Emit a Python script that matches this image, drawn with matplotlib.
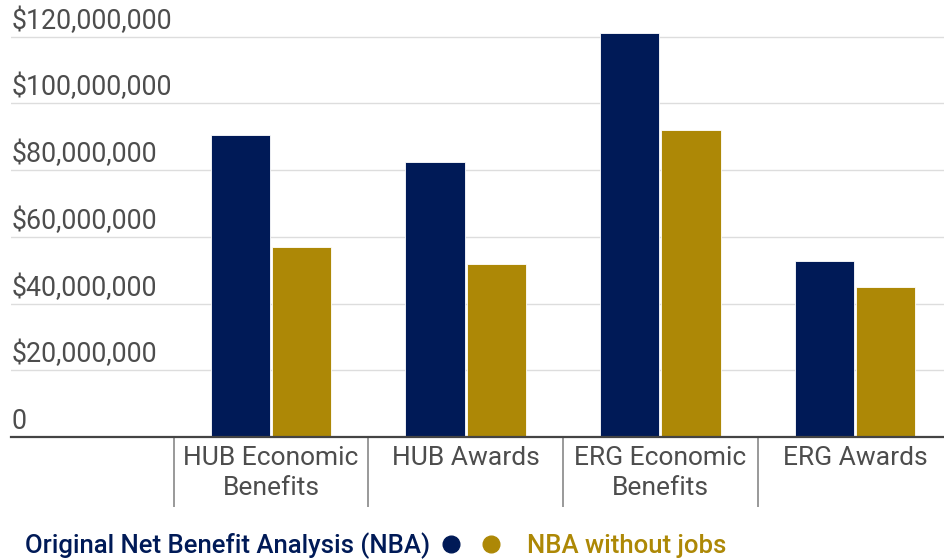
import matplotlib
matplotlib.use("Agg")
import matplotlib.pyplot as plt
from matplotlib.lines import Line2D
import numpy as np

plt.rcParams['font.family'] = ['Roboto', 'DejaVu Sans']

categories = ["HUB Economic\nBenefits", "HUB Awards", "ERG Economic\nBenefits", "ERG Awards"]
original_nba = [90.5e6, 82.4e6, 121.2e6, 52.9e6]
nba_no_jobs = [57.0e6, 51.9e6, 92.0e6, 44.9e6]
yticks = [0, 20e6, 40e6, 60e6, 80e6, 100e6, 120e6]
series_names = ["Original Net Benefit Analysis (NBA)", "NBA without jobs"]

navy = '#001A57'
gold = '#AD8806'
grey_txt = '#4d4d4d'

W, H = 945, 560
fig = plt.figure(figsize=(W / 100, H / 100), dpi=100)
ax = fig.add_axes([11 / W, 1 - 437 / H, 1 - 11 / W, 437 / H])

x = np.arange(len(categories))
bw = 0.305
ax.bar(x - bw / 2 - 0.005, original_nba, bw, color=navy, edgecolor='white', linewidth=0.6, zorder=3)
ax.bar(x + bw / 2 + 0.005, nba_no_jobs, bw, color=gold, edgecolor='white', linewidth=0.6, zorder=3)

ax.set_xlim(-1.335, 3.462)
ax.set_ylim(0, 131e6)

for s in ['top', 'right', 'left']:
    ax.spines[s].set_visible(False)
ax.spines['bottom'].set_color('#444444')
ax.spines['bottom'].set_linewidth(1.6)
ax.spines['bottom'].set_zorder(4)

ax.set_xticks([])
ax.set_yticks([])
for t in yticks:
    if t > 0:
        ax.axhline(t, color='#dddddd', lw=1.0, zorder=1)
    lab = "0" if t == 0 else "${:,.0f}".format(t)
    ax.annotate(lab, xy=(0, t), xycoords=('axes fraction', 'data'),
                xytext=(1, 8), textcoords='offset pixels',
                ha='left', va='baseline', fontsize=19.3, color=grey_txt)

# category labels and separators
for i, c in enumerate(categories):
    ax.annotate(c, xy=(i, 0), xycoords=('data', 'axes fraction'),
                xytext=(0, -9), textcoords='offset pixels',
                ha='center', va='top', fontsize=19, color=grey_txt,
                linespacing=1.3)
ax.vlines(np.arange(len(categories)) - 0.5, -70 / 437, 0, transform=ax.get_xaxis_transform(),
          colors='#888888', lw=1.2, clip_on=False)

# legend
fig.text(25 / W, 1 - 553 / H, series_names[0], color=navy, fontsize=18.5,
         fontweight='medium', ha='left', va='baseline')
fig.add_artist(Line2D([451 / W], [1 - 544 / H], marker='o', ms=12, color=navy,
                      transform=fig.transFigure, linestyle='none'))
fig.add_artist(Line2D([491 / W], [1 - 544 / H], marker='o', ms=12, color=gold,
                      transform=fig.transFigure, linestyle='none'))
fig.text(527 / W, 1 - 553 / H, series_names[1], color=gold, fontsize=18.5,
         fontweight='medium', ha='left', va='baseline')

fig.savefig('out.png', dpi=100)
